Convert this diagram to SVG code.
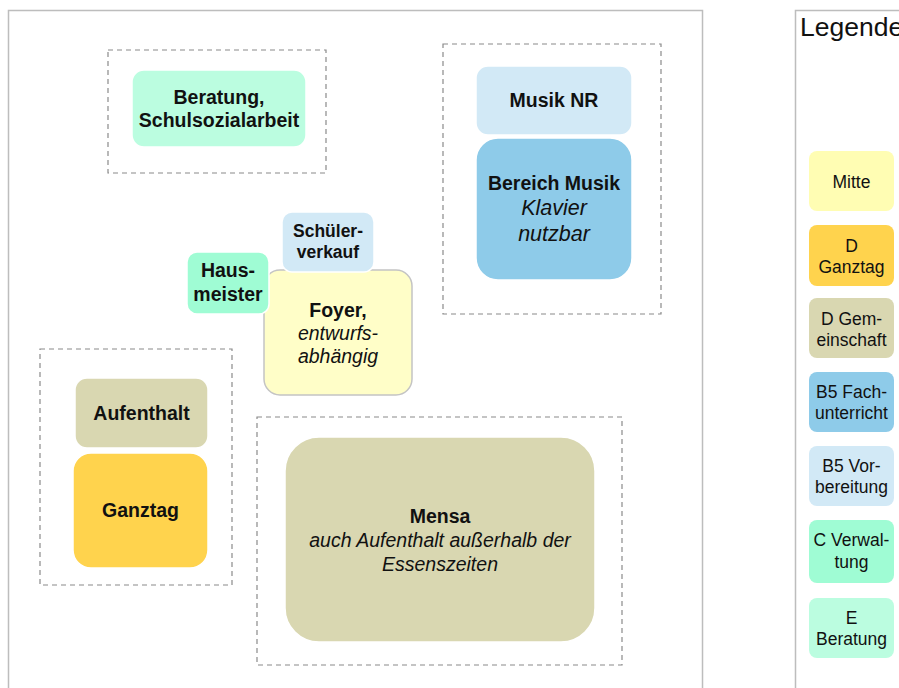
<svg xmlns="http://www.w3.org/2000/svg" width="899" height="688" viewBox="0 0 899 688">
<style>
.frame{fill:#fff;stroke:#bdbdbd;stroke-width:1.5}
.zone{fill:none;stroke:#8a8a8a;stroke-width:1.2;stroke-dasharray:5 4}
.n{stroke:#fff;stroke-width:1.5}
.t{font-family:"Liberation Sans",Arial,sans-serif;fill:#111;text-anchor:middle}
.b{font-weight:bold;font-size:19.5px}
.i{font-style:italic;font-size:19.5px}
.s{font-weight:bold;font-size:17.5px}
.l{font-size:17.5px}
</style>
<rect width="899" height="688" fill="#fff"/>
<rect class="frame" x="8.5" y="10.5" width="694" height="700"/>
<rect class="frame" x="795.5" y="10.5" width="130" height="700"/>

<g id="zones">
<rect class="zone" x="108" y="50" width="218" height="123"/>
<rect class="zone" x="443" y="44" width="218" height="270"/>
<rect class="zone" x="40" y="349" width="192" height="236"/>
<rect class="zone" x="257" y="417" width="365" height="248"/>
</g>

<g id="connectors"></g>

<g id="beratung">
<rect class="n" x="132" y="70" width="174" height="77" rx="12" fill="#bbfde0"/>
<text class="t b" x="219" y="104">Beratung,</text>
<text class="t b" x="219" y="127">Schulsozialarbeit</text>
</g>

<g id="musik-nr">
<rect class="n" x="476" y="66" width="156" height="69" rx="12" fill="#d2e9f6"/>
<text class="t b" x="554" y="107">Musik NR</text>
</g>

<g id="bereich-musik">
<rect class="n" x="476" y="138" width="156" height="142" rx="22" fill="#8ecbe9"/>
<text class="t b" x="554" y="190">Bereich Musik</text>
<text class="t i" x="554" y="215" style="font-size:21.5px">Klavier</text>
<text class="t i" x="554" y="241" style="font-size:21.5px">nutzbar</text>
</g>

<g id="foyer">
<rect x="264" y="270" width="148" height="125" rx="16" fill="#fffec8" stroke="#c4c4c4" stroke-width="1.5"/>
<text class="t b" x="338" y="317">Foyer,</text>
<text class="t i" x="338" y="340">entwurfs-</text>
<text class="t i" x="338" y="363">abhängig</text>
</g>

<g id="schuelerverkauf">
<rect class="n" x="282" y="212" width="92" height="60" rx="10" fill="#d2e9f6"/>
<text class="t s" x="328" y="237">Schüler-</text>
<text class="t s" x="328" y="258">verkauf</text>
</g>

<g id="hausmeister">
<rect class="n" x="187" y="252" width="82" height="62" rx="10" fill="#9ffcd4"/>
<text class="t b" x="228" y="277">Haus-</text>
<text class="t b" x="228" y="301">meister</text>
</g>

<g id="aufenthalt">
<rect class="n" x="75" y="378" width="133" height="70" rx="12" fill="#d9d7b1"/>
<text class="t b" x="141.5" y="420">Aufenthalt</text>
</g>

<g id="ganztag">
<rect class="n" x="73" y="453" width="135" height="115" rx="18" fill="#ffd34d"/>
<text class="t b" x="140.5" y="517">Ganztag</text>
</g>

<g id="mensa">
<rect class="n" x="285" y="437" width="310" height="205" rx="34" fill="#d9d7b1"/>
<text class="t b" x="440" y="523">Mensa</text>
<text class="t i" x="440" y="547">auch Aufenthalt außerhalb der</text>
<text class="t i" x="440" y="571">Essenszeiten</text>
</g>

<g id="legende">
<text x="800" y="36" style="font-family:'Liberation Sans',Arial,sans-serif;font-size:26.5px;fill:#111">Legende</text>
<g id="leg-mitte"><rect x="809" y="151" width="85" height="60" rx="8" fill="#fffdb3"/><text class="t l" x="851.5" y="188">Mitte</text></g>
<g id="leg-d-ganztag"><rect x="809" y="225" width="85" height="61" rx="8" fill="#ffd34d"/><text class="t l" x="851.5" y="252">D</text><text class="t l" x="851.5" y="273">Ganztag</text></g>
<g id="leg-d-gemeinschaft"><rect x="809" y="298" width="85" height="60" rx="8" fill="#d9d7b1"/><text class="t l" x="851.5" y="325">D Gem-</text><text class="t l" x="851.5" y="346">einschaft</text></g>
<g id="leg-b5-fach"><rect x="809" y="372" width="85" height="60" rx="8" fill="#8ecbe9"/><text class="t l" x="851.5" y="398">B5 Fach-</text><text class="t l" x="851.5" y="419">unterricht</text></g>
<g id="leg-b5-vor"><rect x="809" y="446" width="85" height="60" rx="8" fill="#d2e9f6"/><text class="t l" x="851.5" y="472">B5 Vor-</text><text class="t l" x="851.5" y="493">bereitung</text></g>
<g id="leg-c-verwaltung"><rect x="809" y="520" width="85" height="63" rx="8" fill="#9ffcd4"/><text class="t l" x="851.5" y="546">C Verwal-</text><text class="t l" x="851.5" y="568">tung</text></g>
<g id="leg-e-beratung"><rect x="809" y="598" width="85" height="60" rx="8" fill="#bbfde0"/><text class="t l" x="851.5" y="624">E</text><text class="t l" x="851.5" y="645">Beratung</text></g>
</g>
</svg>
